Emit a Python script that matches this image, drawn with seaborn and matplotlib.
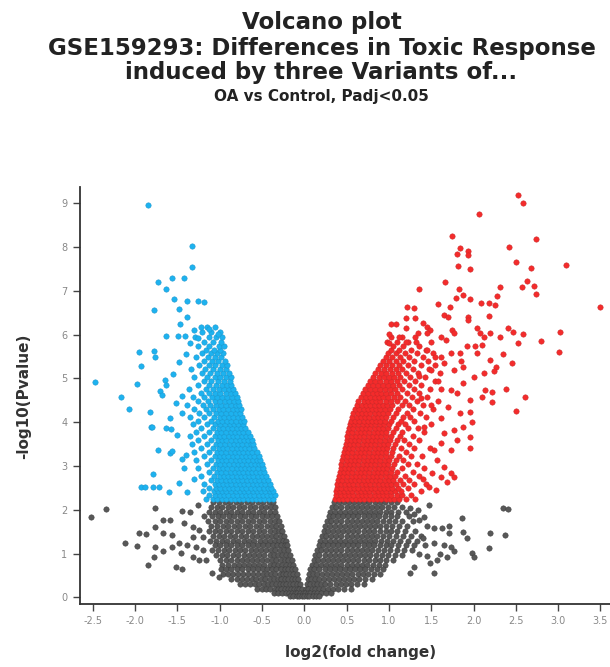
import matplotlib
matplotlib.use("Agg")
import matplotlib.pyplot as plt
import pandas as pd
import seaborn as sns

# ---------------- data (log2 fold change, -log10 p) ----------------
# dense cores given as rows: (y, [x values])
blue_rows = [
    (2.24, [-1.16, -1.08, -1.03, -0.97, -0.92, -0.87, -0.82, -0.77, -0.72, -0.67, -0.62, -0.57, -0.52, -0.47, -0.42, -0.37]),
    (2.33, [-1.12, -1.05, -1.00, -0.95, -0.90, -0.84, -0.79, -0.74, -0.69, -0.64, -0.59, -0.54, -0.49, -0.44, -0.39, -0.35]),
    (2.42, [-1.20, -1.07, -1.02, -0.97, -0.92, -0.87, -0.81, -0.76, -0.71, -0.66, -0.61, -0.56, -0.51, -0.46, -0.41, -0.37]),
    (2.51, [-1.13, -1.04, -0.99, -0.94, -0.89, -0.84, -0.79, -0.74, -0.69, -0.63, -0.58, -0.53, -0.48, -0.43, -0.39]),
    (2.60, [-1.18, -1.06, -1.01, -0.96, -0.91, -0.86, -0.81, -0.76, -0.71, -0.66, -0.61, -0.56, -0.51, -0.46, -0.41]),
    (2.69, [-1.10, -1.03, -0.98, -0.93, -0.88, -0.83, -0.78, -0.73, -0.68, -0.63, -0.58, -0.53, -0.48, -0.43]),
    (2.78, [-1.22, -1.07, -1.00, -0.95, -0.90, -0.85, -0.80, -0.75, -0.70, -0.65, -0.60, -0.55, -0.50, -0.45]),
    (2.87, [-1.12, -1.03, -0.98, -0.93, -0.87, -0.82, -0.77, -0.72, -0.67, -0.62, -0.57, -0.52, -0.47]),
    (2.96, [-1.25, -1.08, -1.01, -0.96, -0.91, -0.85, -0.80, -0.75, -0.70, -0.65, -0.60, -0.55, -0.49]),
    (3.05, [-1.15, -1.04, -0.99, -0.94, -0.89, -0.83, -0.78, -0.73, -0.68, -0.63, -0.58, -0.53, -0.50]),
    (3.14, [-1.28, -1.10, -1.02, -0.97, -0.92, -0.87, -0.81, -0.76, -0.71, -0.66, -0.61, -0.56, -0.52]),
    (3.23, [-1.18, -1.06, -1.00, -0.95, -0.90, -0.84, -0.79, -0.74, -0.69, -0.64, -0.59, -0.54]),
    (3.32, [-1.30, -1.12, -1.03, -0.98, -0.93, -0.87, -0.82, -0.77, -0.72, -0.67, -0.62, -0.56]),
    (3.41, [-1.22, -1.08, -1.01, -0.96, -0.91, -0.85, -0.80, -0.75, -0.70, -0.65, -0.59]),
    (3.50, [-1.33, -1.15, -1.04, -0.99, -0.94, -0.88, -0.83, -0.78, -0.73, -0.68, -0.63, -0.60]),
    (3.59, [-1.25, -1.10, -1.02, -0.97, -0.92, -0.86, -0.81, -0.76, -0.71, -0.66, -0.62]),
    (3.68, [-1.35, -1.18, -1.06, -1.00, -0.95, -0.89, -0.84, -0.79, -0.74, -0.69, -0.64]),
    (3.77, [-1.28, -1.12, -1.03, -0.98, -0.93, -0.87, -0.82, -0.77, -0.72, -0.67]),
    (3.86, [-1.22, -1.08, -1.01, -0.96, -0.90, -0.85, -0.80, -0.75, -0.70]),
    (3.95, [-1.32, -1.15, -1.05, -0.99, -0.94, -0.88, -0.83, -0.78, -0.72]),
    (4.04, [-1.26, -1.10, -1.02, -0.97, -0.91, -0.86, -0.81, -0.75, -0.71]),
    (4.13, [-1.35, -1.18, -1.07, -1.00, -0.95, -0.89, -0.84, -0.78, -0.73]),
    (4.22, [-1.24, -1.12, -1.04, -0.98, -0.93, -0.87, -0.81, -0.76]),
    (4.31, [-1.30, -1.16, -1.08, -1.01, -0.96, -0.90, -0.84, -0.79, -0.75]),
    (4.40, [-1.38, -1.20, -1.11, -1.04, -0.98, -0.92, -0.87, -0.81, -0.77]),
    (4.49, [-1.26, -1.14, -1.06, -1.00, -0.94, -0.89, -0.83, -0.78]),
    (4.58, [-1.32, -1.18, -1.09, -1.03, -0.97, -0.91, -0.85, -0.80]),
    (4.67, [-1.22, -1.12, -1.05, -0.99, -0.93, -0.87, -0.82]),
    (4.76, [-1.36, -1.16, -1.08, -1.01, -0.95, -0.89, -0.84]),
    (4.85, [-1.25, -1.13, -1.04, -0.97, -0.91, -0.86]),
    (4.94, [-1.19, -1.10, -1.02, -0.95, -0.88]),
    (5.03, [-1.30, -1.15, -1.06, -0.99, -0.92, -0.87]),
    (5.12, [-1.21, -1.11, -1.03, -0.96, -0.89]),
    (5.21, [-1.34, -1.17, -1.08, -1.00, -0.93]),
    (5.30, [-1.24, -1.13, -1.05, -0.97, -0.91]),
    (5.39, [-1.19, -1.09, -1.02, -0.94]),
    (5.48, [-1.28, -1.14, -1.06, -0.98]),
    (5.57, [-1.21, -1.10, -1.03, -0.96]),
    (5.66, [-1.16, -1.07, -0.99]),
    (5.75, [-1.25, -1.12, -1.01, -0.95]),
    (5.84, [-1.18, -1.08, -0.98]),
    (5.95, [-1.29, -1.13, -1.04, -0.97]),
    (6.06, [-1.21, -1.10, -1.00]),
    (6.17, [-1.15, -1.05]),
]
blue_sparse_x = [-1.85, -1.33, -1.33, -1.73, -1.56, -1.42, -1.63, -1.54, -1.38, -1.26, -1.18, -1.77, -1.48,
                 -1.39, -1.47, -1.63, -1.49, -1.41, -1.30, -1.22, -1.12, -1.02, -1.25, -1.95, -1.78, -2.47,
                 -2.17, -2.07, -1.98, -1.93, -1.76, -1.82, -1.71, -1.68, -1.81, -1.73, -1.59, -1.79, -1.93,
                 -1.88, -1.79, -1.72, -1.56, -1.45, -1.40, -1.59, -1.63, -1.65, -1.63, -1.48, -1.52, -1.45,
                 -1.50, -1.42, -1.48, -1.38, -1.30, -1.55, -1.40, -1.35, -1.45, -1.60, -1.80, -1.57]
blue_sparse_y = [8.96, 8.03, 7.54, 7.20, 7.30, 7.30, 7.04, 6.82, 6.77, 6.77, 6.74, 6.56, 6.59,
                 6.40, 6.24, 5.98, 5.98, 5.98, 6.10, 6.18, 6.12, 6.02, 5.92, 5.60, 5.63, 4.91,
                 4.57, 4.30, 4.87, 5.29, 5.50, 4.24, 4.72, 4.62, 3.89, 3.37, 3.29, 2.82, 2.53,
                 2.53, 2.53, 2.53, 3.35, 3.15, 3.25, 4.10, 3.87, 4.97, 4.85, 5.38, 4.45, 4.60,
                 3.70, 2.95, 2.62, 2.40, 2.70, 5.10, 5.55, 5.80, 4.20, 2.40, 3.90, 3.85]

red_rows = [
    (2.24, [0.36, 0.41, 0.46, 0.51, 0.56, 0.61, 0.66, 0.71, 0.76, 0.81, 0.86, 0.91, 0.96, 1.01, 1.06, 1.12, 1.20, 1.31]),
    (2.33, [0.37, 0.43, 0.48, 0.53, 0.58, 0.63, 0.68, 0.73, 0.78, 0.83, 0.88, 0.93, 0.98, 1.03, 1.09, 1.16, 1.26]),
    (2.42, [0.38, 0.42, 0.47, 0.52, 0.57, 0.62, 0.67, 0.72, 0.77, 0.82, 0.87, 0.92, 0.97, 1.02, 1.07, 1.14, 1.38]),
    (2.51, [0.39, 0.44, 0.49, 0.54, 0.59, 0.64, 0.69, 0.74, 0.79, 0.84, 0.89, 0.94, 0.99, 1.04, 1.11, 1.22]),
    (2.60, [0.39, 0.43, 0.48, 0.53, 0.58, 0.63, 0.68, 0.73, 0.78, 0.83, 0.88, 0.93, 0.98, 1.03, 1.08, 1.17, 1.30, 1.44]),
    (2.69, [0.40, 0.45, 0.50, 0.55, 0.60, 0.65, 0.70, 0.75, 0.80, 0.85, 0.90, 0.95, 1.00, 1.05, 1.13, 1.24]),
    (2.78, [0.41, 0.46, 0.51, 0.56, 0.61, 0.66, 0.71, 0.76, 0.81, 0.86, 0.91, 0.96, 1.01, 1.07, 1.19, 1.35]),
    (2.87, [0.42, 0.47, 0.52, 0.57, 0.62, 0.67, 0.72, 0.77, 0.82, 0.87, 0.92, 0.97, 1.02, 1.10, 1.28]),
    (2.96, [0.43, 0.48, 0.53, 0.58, 0.63, 0.68, 0.73, 0.78, 0.83, 0.88, 0.93, 0.98, 1.04, 1.15, 1.42]),
    (3.05, [0.44, 0.49, 0.54, 0.59, 0.64, 0.69, 0.74, 0.79, 0.84, 0.89, 0.94, 0.99, 1.06, 1.22, 1.33]),
    (3.14, [0.45, 0.50, 0.55, 0.60, 0.65, 0.70, 0.75, 0.80, 0.85, 0.90, 0.95, 1.00, 1.08, 1.17]),
    (3.23, [0.46, 0.51, 0.56, 0.61, 0.66, 0.71, 0.76, 0.81, 0.86, 0.91, 0.96, 1.02, 1.12, 1.26, 1.39]),
    (3.32, [0.47, 0.52, 0.57, 0.62, 0.67, 0.72, 0.77, 0.82, 0.87, 0.92, 0.97, 1.04, 1.20]),
    (3.41, [0.48, 0.53, 0.58, 0.63, 0.68, 0.73, 0.78, 0.83, 0.88, 0.93, 0.98, 1.05, 1.14, 1.30, 1.48]),
    (3.50, [0.49, 0.54, 0.59, 0.64, 0.69, 0.74, 0.79, 0.84, 0.89, 0.94, 0.99, 1.07, 1.24]),
    (3.59, [0.50, 0.55, 0.60, 0.65, 0.70, 0.75, 0.80, 0.85, 0.90, 0.95, 1.01, 1.10, 1.18, 1.36]),
    (3.68, [0.51, 0.56, 0.61, 0.66, 0.71, 0.76, 0.81, 0.86, 0.91, 0.96, 1.03, 1.13, 1.28]),
    (3.77, [0.52, 0.57, 0.62, 0.67, 0.72, 0.77, 0.82, 0.87, 0.92, 0.97, 1.05, 1.16, 1.42]),
    (3.86, [0.53, 0.58, 0.63, 0.68, 0.73, 0.78, 0.83, 0.88, 0.93, 0.99, 1.08, 1.22, 1.34]),
    (3.95, [0.54, 0.59, 0.64, 0.69, 0.74, 0.79, 0.84, 0.89, 0.94, 1.00, 1.11, 1.19, 1.50]),
    (4.04, [0.55, 0.60, 0.65, 0.70, 0.75, 0.80, 0.85, 0.90, 0.95, 1.02, 1.14, 1.30]),
    (4.13, [0.56, 0.62, 0.67, 0.72, 0.77, 0.82, 0.87, 0.92, 0.97, 1.05, 1.17, 1.25, 1.44]),
    (4.22, [0.58, 0.63, 0.68, 0.73, 0.78, 0.83, 0.88, 0.93, 0.99, 1.08, 1.21, 1.37]),
    (4.31, [0.60, 0.65, 0.70, 0.75, 0.80, 0.85, 0.90, 0.95, 1.01, 1.11, 1.29, 1.52]),
    (4.40, [0.62, 0.68, 0.73, 0.78, 0.83, 0.88, 0.93, 0.98, 1.04, 1.15, 1.24, 1.40]),
    (4.49, [0.64, 0.70, 0.75, 0.80, 0.85, 0.90, 0.96, 1.02, 1.09, 1.19, 1.33, 1.58]),
    (4.58, [0.67, 0.73, 0.78, 0.83, 0.88, 0.93, 0.99, 1.06, 1.13, 1.27, 1.45]),
    (4.67, [0.69, 0.75, 0.81, 0.86, 0.91, 0.97, 1.03, 1.10, 1.21, 1.35]),
    (4.76, [0.72, 0.78, 0.84, 0.89, 0.95, 1.01, 1.07, 1.16, 1.30, 1.49, 1.62]),
    (4.85, [0.75, 0.81, 0.87, 0.93, 0.99, 1.05, 1.12, 1.24, 1.38]),
    (4.94, [0.78, 0.84, 0.90, 0.96, 1.02, 1.09, 1.18, 1.31, 1.55]),
    (5.03, [0.81, 0.88, 0.94, 1.00, 1.06, 1.13, 1.25, 1.43]),
    (5.12, [0.84, 0.91, 0.97, 1.04, 1.11, 1.20, 1.34, 1.60]),
    (5.21, [0.87, 0.94, 1.01, 1.08, 1.16, 1.28, 1.47]),
    (5.30, [0.90, 0.97, 1.04, 1.12, 1.22, 1.38, 1.55]),
    (5.39, [0.93, 1.00, 1.08, 1.17, 1.30, 1.46]),
    (5.48, [0.96, 1.04, 1.13, 1.24, 1.40, 1.62]),
    (5.57, [0.99, 1.08, 1.19, 1.33, 1.52]),
    (5.66, [1.02, 1.12, 1.26, 1.44]),
    (5.75, [1.05, 1.17, 1.35]),
    (5.84, [0.98, 1.10, 1.23, 1.50]),
    (5.95, [1.03, 1.16, 1.31]),
]
red_sparse_x = [2.52, 2.58, 2.07, 1.74, 2.74, 2.42, 1.84, 1.93, 1.80, 1.93, 1.82, 1.96, 2.50, 2.68, 3.09,
                2.63, 2.57, 2.72, 2.74, 1.66, 1.36, 1.83, 1.88, 1.96, 1.79, 2.31, 2.28, 1.58, 1.72, 2.09,
                2.18, 2.25, 3.49, 1.21, 1.30, 1.65, 1.70, 1.93, 1.93, 2.18, 1.20, 1.31, 1.02, 1.08, 1.40,
                1.45, 1.49, 1.20, 1.34, 1.45, 1.61, 1.67, 1.75, 1.77, 2.04, 2.08, 2.20, 2.12, 2.31, 2.41,
                2.47, 2.58, 2.53, 2.80, 3.02, 3.01, 1.00, 1.00, 1.12, 1.20, 1.32, 1.92, 2.02, 2.10, 2.61,
                2.50, 2.38, 2.22, 2.22, 2.10, 1.96, 1.96, 1.98, 1.84, 1.88, 1.96, 1.96, 1.81, 1.77, 1.73,
                1.65, 1.61, 1.53, 1.57, 1.65, 1.73, 1.77, 1.61, 1.51, 1.47, 1.69, 1.84, 2.04, 2.20, 2.27,
                2.12, 2.00, 1.88, 1.73, 1.81, 2.14, 2.24, 1.88, 1.77, 1.65, 1.73, 1.55, 1.45, 1.58, 1.50,
                1.62, 1.42, 1.38, 1.50, 1.36, 1.70, 1.85, 2.35, 2.45, 1.56, 1.40]
red_sparse_y = [9.19, 9.00, 8.76, 8.25, 8.19, 8.01, 7.97, 7.90, 7.84, 7.82, 7.57, 7.50, 7.65, 7.52, 7.58,
                7.23, 7.08, 7.11, 6.93, 7.20, 7.04, 7.04, 6.91, 6.81, 6.83, 7.08, 6.88, 6.70, 6.64, 6.72,
                6.72, 6.68, 6.62, 6.64, 6.60, 6.45, 6.41, 6.41, 6.34, 6.43, 6.37, 6.37, 6.24, 6.24, 6.26,
                6.18, 6.11, 6.15, 6.03, 6.03, 5.95, 5.88, 6.11, 6.03, 6.16, 6.03, 6.03, 5.95, 5.95, 6.16,
                6.07, 6.02, 5.82, 5.86, 6.05, 5.61, 6.01, 5.80, 5.95, 5.84, 5.84, 5.73, 5.73, 5.76, 4.57,
                4.26, 4.75, 4.70, 4.47, 4.58, 4.51, 4.24, 4.01, 4.21, 3.90, 3.67, 3.41, 3.60, 3.82, 3.37,
                3.75, 3.52, 3.37, 3.14, 2.99, 2.84, 2.76, 2.76, 2.84, 2.53, 2.64, 5.58, 5.58, 5.42, 5.27,
                5.12, 5.04, 4.89, 4.74, 4.66, 4.74, 5.16, 5.27, 5.19, 5.35, 5.58, 5.50, 5.65, 4.95, 4.40,
                4.10, 3.90, 4.55, 5.20, 5.05, 4.35, 5.40, 5.55, 5.35, 2.45, 2.70]

grey_rows = [
    (2.18, [-1.08, -1.01, -0.94, -0.88, -0.81, -0.75, -0.68, -0.62, -0.55, -0.49, -0.42, -0.37,
            0.35, 0.41, 0.47, 0.53, 0.59, 0.65, 0.71, 0.77, 0.83, 0.89, 0.95, 1.02, 1.09]),
    (2.07, [-1.10, -1.03, -0.97, -0.90, -0.84, -0.77, -0.71, -0.64, -0.58, -0.51, -0.45, -0.39, -0.34,
            0.33, 0.38, 0.44, 0.50, 0.56, 0.62, 0.68, 0.74, 0.80, 0.86, 0.92, 0.99, 1.06, 1.15]),
    (1.96, [-1.12, -1.05, -0.99, -0.92, -0.86, -0.79, -0.73, -0.66, -0.60, -0.53, -0.47, -0.41, -0.35,
            0.31, 0.36, 0.42, 0.48, 0.54, 0.60, 0.66, 0.72, 0.78, 0.84, 0.90, 0.96, 1.03, 1.11, 1.20]),
    (1.85, [-1.09, -1.02, -0.96, -0.89, -0.83, -0.76, -0.70, -0.63, -0.57, -0.50, -0.44, -0.38, -0.32,
            0.29, 0.34, 0.40, 0.46, 0.52, 0.58, 0.64, 0.70, 0.76, 0.82, 0.88, 0.95, 1.02, 1.10, 1.24]),
    (1.74, [-1.14, -1.06, -0.99, -0.93, -0.86, -0.80, -0.73, -0.67, -0.60, -0.54, -0.47, -0.41, -0.35, -0.30,
            0.27, 0.32, 0.38, 0.44, 0.50, 0.56, 0.62, 0.68, 0.74, 0.80, 0.86, 0.93, 1.00, 1.07, 1.16, 1.28]),
    (1.63, [-1.10, -1.03, -0.96, -0.90, -0.83, -0.77, -0.70, -0.64, -0.57, -0.51, -0.44, -0.38, -0.33, -0.28,
            0.25, 0.30, 0.36, 0.42, 0.48, 0.54, 0.60, 0.66, 0.72, 0.78, 0.84, 0.90, 0.97, 1.04, 1.12, 1.21]),
    (1.52, [-1.12, -1.05, -0.99, -0.92, -0.86, -0.79, -0.73, -0.66, -0.60, -0.53, -0.47, -0.41, -0.35, -0.30, -0.26,
            0.23, 0.28, 0.34, 0.40, 0.46, 0.52, 0.58, 0.64, 0.70, 0.76, 0.82, 0.89, 0.96, 1.03, 1.10, 1.19, 1.31]),
    (1.41, [-1.08, -1.01, -0.95, -0.88, -0.82, -0.75, -0.69, -0.62, -0.56, -0.50, -0.44, -0.38, -0.33, -0.28, -0.24,
            0.21, 0.26, 0.32, 0.38, 0.44, 0.50, 0.56, 0.62, 0.68, 0.74, 0.80, 0.86, 0.93, 1.00, 1.08, 1.17, 1.26, 1.38]),
    (1.30, [-1.11, -1.04, -0.97, -0.91, -0.84, -0.78, -0.71, -0.65, -0.59, -0.52, -0.46, -0.40, -0.35, -0.30, -0.25, -0.22,
            0.19, 0.24, 0.30, 0.36, 0.42, 0.48, 0.54, 0.60, 0.66, 0.72, 0.78, 0.84, 0.91, 0.98, 1.05, 1.13, 1.22, 1.33]),
    (1.19, [-1.06, -0.99, -0.93, -0.86, -0.80, -0.73, -0.67, -0.61, -0.55, -0.49, -0.43, -0.37, -0.32, -0.27, -0.23, -0.20,
            0.17, 0.22, 0.28, 0.34, 0.40, 0.46, 0.52, 0.58, 0.64, 0.70, 0.76, 0.82, 0.89, 0.96, 1.03, 1.11, 1.20, 1.30, 1.43]),
    (1.08, [-1.09, -1.02, -0.95, -0.89, -0.82, -0.76, -0.70, -0.63, -0.57, -0.51, -0.45, -0.39, -0.34, -0.29, -0.24, -0.19,
            0.15, 0.20, 0.26, 0.32, 0.38, 0.44, 0.50, 0.56, 0.62, 0.68, 0.74, 0.80, 0.87, 0.94, 1.01, 1.09, 1.18, 1.27]),
    (0.97, [-1.04, -0.97, -0.91, -0.84, -0.78, -0.71, -0.65, -0.59, -0.53, -0.47, -0.41, -0.36, -0.31, -0.26, -0.21, -0.17,
            0.13, 0.18, 0.24, 0.30, 0.36, 0.42, 0.48, 0.54, 0.60, 0.66, 0.72, 0.78, 0.85, 0.92, 0.99, 1.07, 1.15]),
    (0.86, [-1.00, -0.93, -0.87, -0.80, -0.74, -0.68, -0.62, -0.56, -0.50, -0.44, -0.38, -0.33, -0.28, -0.23, -0.19, -0.15,
            0.11, 0.16, 0.22, 0.28, 0.34, 0.40, 0.46, 0.52, 0.58, 0.64, 0.70, 0.76, 0.83, 0.90, 0.97, 1.05]),
    (0.75, [-0.97, -0.90, -0.83, -0.77, -0.71, -0.65, -0.59, -0.53, -0.47, -0.41, -0.36, -0.31, -0.26, -0.21, -0.17, -0.13,
            0.09, 0.14, 0.20, 0.26, 0.32, 0.38, 0.44, 0.50, 0.56, 0.62, 0.68, 0.74, 0.81, 0.88, 0.95]),
    (0.64, [-0.98, -0.92, -0.86, -0.79, -0.73, -0.67, -0.61, -0.55, -0.49, -0.44, -0.38, -0.33, -0.28, -0.23, -0.19, -0.15, -0.11,
            0.07, 0.12, 0.18, 0.24, 0.30, 0.36, 0.42, 0.48, 0.54, 0.60, 0.66, 0.72, 0.79, 0.86, 0.93]),
    (0.53, [-0.96, -0.90, -0.84, -0.78, -0.72, -0.66, -0.60, -0.55, -0.49, -0.44, -0.39, -0.34, -0.29, -0.25, -0.21, -0.17, -0.13, -0.09,
            0.06, 0.10, 0.15, 0.21, 0.27, 0.33, 0.39, 0.45, 0.51, 0.57, 0.63, 0.69, 0.75, 0.82, 0.89]),
    (0.42, [-0.86, -0.80, -0.74, -0.68, -0.62, -0.57, -0.51, -0.46, -0.41, -0.36, -0.31, -0.27, -0.23, -0.19, -0.15, -0.11, -0.07,
            0.04, 0.08, 0.13, 0.18, 0.23, 0.29, 0.35, 0.41, 0.47, 0.53, 0.59, 0.65, 0.72, 0.80]),
    (0.31, [-0.76, -0.70, -0.64, -0.58, -0.53, -0.48, -0.43, -0.38, -0.33, -0.29, -0.25, -0.21, -0.17, -0.13, -0.09, -0.05,
            0.03, 0.07, 0.11, 0.15, 0.20, 0.25, 0.31, 0.37, 0.43, 0.49, 0.55, 0.62, 0.70]),
    (0.20, [-0.56, -0.50, -0.45, -0.40, -0.35, -0.31, -0.27, -0.23, -0.19, -0.16, -0.12, -0.09, -0.06, -0.03,
            0.02, 0.05, 0.09, 0.13, 0.17, 0.22, 0.28, 0.34, 0.40, 0.47, 0.55]),
    (0.10, [-0.36, -0.31, -0.26, -0.22, -0.18, -0.14, -0.11, -0.08, -0.05, -0.02,
            0.01, 0.04, 0.07, 0.11, 0.15, 0.20, 0.26, 0.32]),
    (0.03, [-0.17, -0.13, -0.09, -0.06, -0.03, 0.00, 0.03, 0.06, 0.10, 0.14, 0.18]),
]
grey_sparse_x = [-2.52, -2.34, -2.12, -1.98, -1.85, -1.76, -1.45, -1.95, -1.87, -1.76, -1.67, -1.59, -1.76,
                 -1.67, -1.78, -1.67, -1.56, -1.48, -1.46, -1.56, -1.52, -1.45, -1.42, -1.32, -1.24, -1.32,
                 -1.20, -1.38, -1.28, -1.20, -1.24, -1.16, -1.32, -1.09, -1.01, -1.25, -1.18, -1.35,
                 1.47, 1.86, 2.35, 2.41, 2.20, 2.37, 2.18, 1.98, 2.00, 1.88, 1.92, 1.71, 1.71, 1.63, 1.53,
                 1.45, 1.53, 1.65, 1.73, 1.77, 1.69, 1.57, 1.49, 1.53, 1.36, 1.41, 1.34, 1.25, 1.30, 1.40,
                 1.35, 1.45, 1.30, 1.60, 1.25]
grey_sparse_y = [1.84, 2.01, 1.25, 1.18, 0.74, 2.04, 1.98, 1.47, 1.45, 1.60, 1.77, 1.77, 1.16,
                 1.05, 0.93, 1.47, 1.43, 1.24, 1.01, 1.16, 0.70, 0.64, 1.69, 1.62, 1.54, 1.39,
                 1.39, 1.20, 1.16, 1.08, 0.86, 0.86, 0.93, 0.55, 0.47, 2.10, 1.85, 1.95,
                 2.11, 1.81, 2.04, 2.01, 1.48, 1.43, 1.12, 1.01, 0.93, 1.50, 1.35, 1.63, 1.47, 1.58, 1.58,
                 1.63, 1.24, 1.20, 1.16, 1.05, 0.93, 0.86, 0.78, 0.55, 1.77, 1.84, 2.00, 2.05, 1.90, 1.35,
                 1.00, 0.95, 0.70, 1.00, 0.55]

x_ticks = [-2.5, -2.0, -1.5, -1.0, -0.5, 0.0, 0.5, 1.0, 1.5, 2.0, 2.5, 3.0, 3.5]
y_ticks = [0, 1, 2, 3, 4, 5, 6, 7, 8, 9]


def build(rows, sx, sy, label):
    xs, ys = [], []
    for yv, row in rows:
        xs.extend(row)
        ys.extend([yv] * len(row))
    xs.extend(sx)
    ys.extend(sy)
    return pd.DataFrame({"log2FC": xs, "nlog10p": ys, "group": label})


df = pd.concat([
    build(grey_rows, grey_sparse_x, grey_sparse_y, "NS"),
    build(blue_rows, blue_sparse_x, blue_sparse_y, "Down"),
    build(red_rows, red_sparse_x, red_sparse_y, "Up"),
], ignore_index=True)

# ---------------- style ----------------
sns.set_theme(style="ticks")
plt.rcParams["font.family"] = ["DejaVu Sans"]
plt.rcParams["axes.unicode_minus"] = False

W, H = 610, 667
fig = plt.figure(figsize=(W / 100, H / 100), dpi=100)
fig.patch.set_facecolor("white")
ax = fig.add_axes([80 / W, (H - 603.5) / H, 556 / W, (603.5 - 187) / H])

styles = {
    "NS": ("#585858", "#3a3a3a"),
    "Down": ("#1db2ef", "#1b95cc"),
    "Up": ("#f42b2b", "#c92828"),
}
for g in ["NS", "Down", "Up"]:
    sub = df[df["group"] == g]
    fc, ec = styles[g]
    sns.scatterplot(data=sub, x="log2FC", y="nlog10p", color=fc, edgecolor=ec,
                    linewidth=0.35, s=15, ax=ax, legend=False, zorder=3)

ax.set_xlim(-2.65, 3.92)
ax.set_ylim(-0.137, 9.37)
ax.set_xticks(x_ticks)
ax.set_xticklabels([f"{t:.1f}" for t in x_ticks])
ax.set_yticks(y_ticks)
ax.set_yticklabels([str(t) for t in y_ticks])
ax.set_xlabel("")
ax.set_ylabel("")
for side in ["top", "right"]:
    ax.spines[side].set_visible(False)
for side in ["left", "bottom"]:
    ax.spines[side].set_color("#333333")
    ax.spines[side].set_linewidth(1.3)
ax.tick_params(axis="both", direction="out", length=5, width=1, color="#444444",
               labelsize=7, labelcolor="#888888", pad=4)

# titles and axis labels
cx = 321.5 / W
fig.text(cx, 1 - 22 / H, "Volcano plot", ha="center", va="center",
         fontsize=16.5, fontweight="bold", color="#222222")
fig.text(cx, 1 - 48 / H, "GSE159293: Differences in Toxic Response", ha="center", va="center",
         fontsize=16.5, fontweight="bold", color="#222222")
fig.text(cx, 1 - 73 / H, "induced by three Variants of...", ha="center", va="center",
         fontsize=16.5, fontweight="bold", color="#222222")
fig.text(cx, 1 - 97 / H, "OA vs Control, Padj<0.05", ha="center", va="center",
         fontsize=11, fontweight="bold", color="#222222")
fig.text(361 / W, 1 - 652 / H, "log2(fold change)", ha="center", va="center",
         fontsize=11, fontweight="bold", color="#333333")
fig.text(24 / W, 1 - 396 / H, "-log10(Pvalue)", ha="center", va="center", rotation=90,
         fontsize=11, fontweight="bold", color="#333333")

fig.savefig("out.png", dpi=100, facecolor="white")
